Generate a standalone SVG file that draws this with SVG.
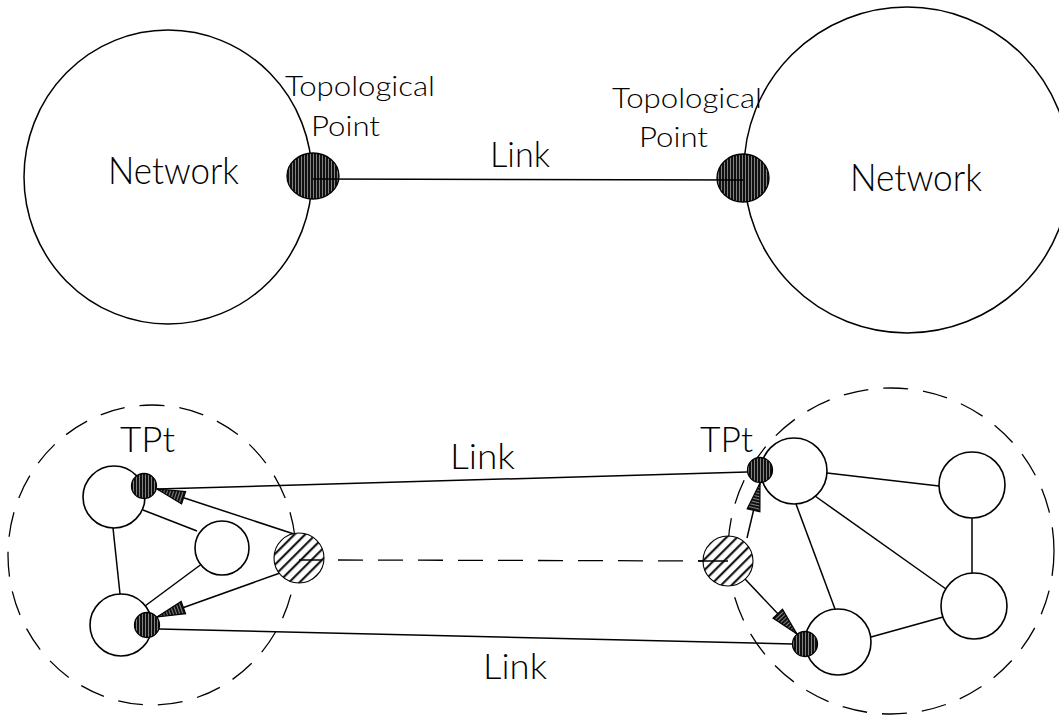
<svg xmlns="http://www.w3.org/2000/svg" width="1059" height="715" viewBox="0 0 1059 715">
<style>
.ln{stroke:#000;stroke-width:1.5;fill:none}
.nd{stroke:#000;stroke-width:1.6;fill:#fff}
.big{stroke:#000;stroke-width:1.5;fill:none}
.dsh{stroke:#000;stroke-width:1.3;fill:none;stroke-dasharray:25 15}
.tp{fill:url(#vh);stroke:#000;stroke-width:1.3}
.hx{fill:url(#dh);stroke:#000;stroke-width:1.1}
text{font-family:"Lato","DejaVu Sans","Liberation Sans",sans-serif;fill:#000;font-weight:300}
</style>
<defs>
<pattern id="vh" patternUnits="userSpaceOnUse" width="3" height="10">
<rect width="3" height="10" fill="#111"/>
<line x1="1.5" y1="0" x2="1.5" y2="10" stroke="#fff" stroke-width="0.6" stroke-opacity="0.8"/>
</pattern>
<pattern id="dh" patternUnits="userSpaceOnUse" width="7.5" height="10" patternTransform="rotate(45)">
<rect width="7.5" height="10" fill="#fff"/>
<line x1="1.2" y1="0" x2="1.2" y2="10" stroke="#000" stroke-width="2"/>
</pattern>
<marker id="ah" markerUnits="userSpaceOnUse" viewBox="-30 -8 32 16" refX="0" refY="0" markerWidth="32" markerHeight="16" orient="auto">
<path d="M0,0 L-28,-6.5 L-28,6.5 Z" fill="url(#vh)" stroke="#000" stroke-width="1.2"/>
</marker>
</defs>

<g id="top-network-left">
<ellipse cx="168" cy="177" rx="144" ry="147" class="big"/>
<text x="108" y="184" font-size="37" textLength="131" lengthAdjust="spacingAndGlyphs">Network</text>
</g>
<g id="top-network-right">
<circle cx="907" cy="170" r="163" class="big"/>
<text x="850" y="191" font-size="37" textLength="132" lengthAdjust="spacingAndGlyphs">Network</text>
</g>
<g id="top-tp-left">
<ellipse cx="313" cy="176" rx="26" ry="23" class="tp"/>
<text x="285" y="96" font-size="28" textLength="150" lengthAdjust="spacingAndGlyphs">Topological</text>
<text x="311" y="136" font-size="28" textLength="69" lengthAdjust="spacingAndGlyphs">Point</text>
</g>
<g id="top-tp-right">
<ellipse cx="743" cy="178" rx="26" ry="24" class="tp"/>
<text x="612" y="108" font-size="28" textLength="150" lengthAdjust="spacingAndGlyphs">Topological</text>
<text x="639" y="147" font-size="28" textLength="69" lengthAdjust="spacingAndGlyphs">Point</text>
</g>

<g id="top-connectors">
<line x1="313" y1="179" x2="743" y2="180" class="ln"/>
<text x="490" y="167" font-size="35" textLength="60" lengthAdjust="spacingAndGlyphs">Link</text>
</g>

<g id="subnetwork-left">
<ellipse cx="152" cy="555" rx="144" ry="150" class="dsh"/>
<text x="120" y="452" font-size="36" textLength="55" lengthAdjust="spacingAndGlyphs">TPt</text>
</g>
<g id="subnetwork-right">
<circle cx="891" cy="551" r="163" class="dsh"/>
<text x="700" y="452" font-size="36" textLength="53" lengthAdjust="spacingAndGlyphs">TPt</text>
</g>

<g id="bottom-connectors">
<line x1="113" y1="528" x2="120" y2="594" class="ln"/>
<line x1="143" y1="510" x2="197" y2="531" class="ln"/>
<line x1="203" y1="563" x2="145" y2="606" class="ln"/>
<line x1="827" y1="473" x2="939" y2="486" class="ln"/>
<line x1="796" y1="504" x2="835" y2="609" class="ln"/>
<line x1="815" y1="496" x2="946" y2="589" class="ln"/>
<line x1="972" y1="518" x2="972" y2="573" class="ln"/>
<line x1="871" y1="637" x2="943" y2="617" class="ln"/>
<line x1="157" y1="489" x2="747" y2="472" class="ln"/>
<line x1="159" y1="629" x2="793" y2="644" class="ln"/>
<line x1="338" y1="560" x2="729" y2="561" class="dsh"/>
<line x1="297" y1="535" x2="157" y2="489" class="ln" marker-end="url(#ah)"/>
<line x1="280" y1="573" x2="157" y2="617" class="ln" marker-end="url(#ah)"/>
<line x1="747" y1="538" x2="760" y2="483" class="ln" marker-end="url(#ah)"/>
<line x1="745" y1="579" x2="797" y2="634" class="ln" marker-end="url(#ah)"/>
<text x="450" y="469" font-size="35" textLength="65" lengthAdjust="spacingAndGlyphs">Link</text>
<text x="483" y="679" font-size="35" textLength="64" lengthAdjust="spacingAndGlyphs">Link</text>
</g>

<g id="node-A"><circle cx="114" cy="497" r="31" class="nd"/></g>
<g id="node-B"><circle cx="222" cy="548" r="27" class="nd"/></g>
<g id="node-C"><circle cx="121" cy="625" r="31" class="nd"/></g>
<g id="node-D"><circle cx="794" cy="471" r="33" class="nd"/></g>
<g id="node-E"><circle cx="972" cy="485" r="33" class="nd"/></g>
<g id="node-F"><circle cx="974" cy="606" r="33" class="nd"/></g>
<g id="node-G"><circle cx="838" cy="642" r="33" class="nd"/></g>

<g id="tp-a"><circle cx="144" cy="486" r="12.5" class="tp"/></g>
<g id="tp-c"><circle cx="147" cy="625" r="12.5" class="tp"/></g>
<g id="tp-d"><circle cx="760" cy="470" r="12.5" class="tp"/></g>
<g id="tp-g"><circle cx="805" cy="644" r="12.5" class="tp"/></g>

<g id="hatched-left">
<circle cx="299" cy="558" r="25" class="hx"/>
<line x1="299" y1="560" x2="322" y2="560" class="ln" stroke-width="1.2"/>
</g>
<g id="hatched-right">
<circle cx="728" cy="561" r="25" class="hx"/>
<line x1="698" y1="561" x2="728" y2="561" class="ln" stroke-width="1.2"/>
</g>
</svg>
